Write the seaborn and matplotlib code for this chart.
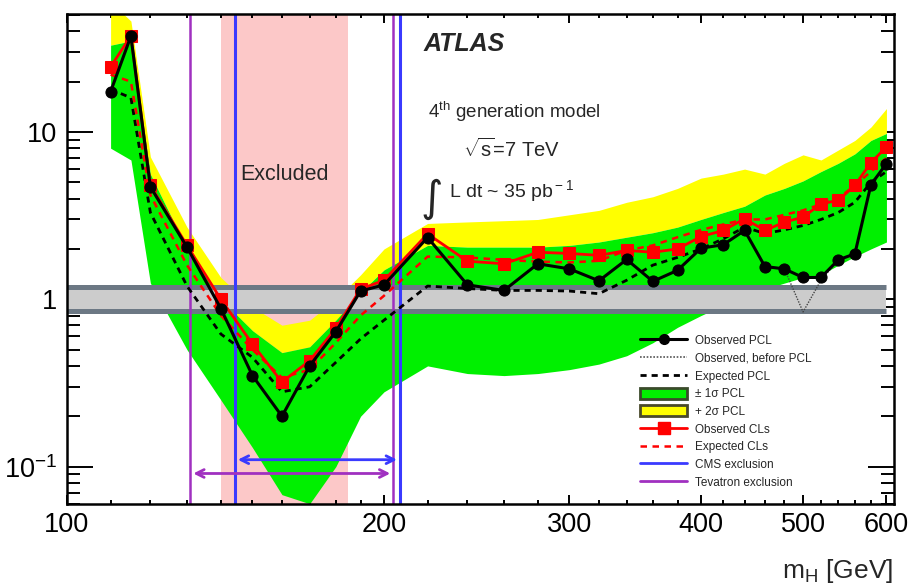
import matplotlib
matplotlib.use("Agg")
import matplotlib.pyplot as plt
import numpy as np
import pandas as pd
import seaborn as sns
from matplotlib.lines import Line2D
from matplotlib.patches import Patch
from matplotlib.ticker import FixedLocator, NullFormatter, FixedFormatter

# Higgs mass points (GeV)
mass = [110, 115, 120, 130, 140, 150, 160, 170, 180, 190, 200, 220, 240, 260, 280,
        300, 320, 340, 360, 380, 400, 420, 440, 460, 480, 500, 520, 540, 560, 580, 600]

# 95% CL limits on sigma / sigma(4th generation)
obs_pcl = [17.4, 37.4, 4.7, 2.05, 0.88, 0.35, 0.20, 0.40, 0.64, 1.12, 1.22, 2.34, 1.22, 1.13, 1.63,
           1.52, 1.29, 1.73, 1.28, 1.49, 2.02, 2.12, 2.58, 1.57, 1.52, 1.35, 1.35, 1.72, 1.87, 4.84, 6.47]
obs_before_pcl = [17.4, 37.4, 4.7, 2.05, 0.88, 0.35, 0.20, 0.40, 0.64, 1.12, 1.22, 2.34, 1.22, 1.13, 1.63,
                  1.52, 1.29, 1.73, 1.28, 1.49, 2.02, 2.12, 2.58, 1.57, 1.52, 0.84, 1.30, 1.72, 1.87, 4.84, 6.47]
exp_pcl = [18.0, 16.0, 3.3, 1.2, 0.62, 0.45, 0.28, 0.30, 0.42, 0.58, 0.75, 1.20, 1.16, 1.13, 1.13,
           1.12, 1.08, 1.30, 1.60, 1.78, 2.00, 2.30, 2.70, 2.47, 2.60, 2.76, 3.00, 3.30, 3.80, 5.00, 5.80]
band_m1 = [8.0, 6.8, 1.25, 0.50, 0.25, 0.13, 0.068, 0.060, 0.10, 0.20, 0.28, 0.40, 0.36, 0.35, 0.36,
           0.38, 0.41, 0.46, 0.55, 0.68, 0.80, 0.92, 1.05, 1.15, 1.25, 1.35, 1.40, 1.60, 1.80, 2.00, 2.20]
band_p1 = [33.0, 35.0, 5.6, 2.0, 1.0, 0.65, 0.48, 0.52, 0.75, 1.10, 1.50, 2.10, 2.05, 2.05, 2.05,
           2.10, 2.20, 2.35, 2.50, 2.70, 3.00, 3.30, 3.60, 4.20, 4.60, 5.10, 5.80, 6.50, 7.40, 8.90, 9.80]
band_p2 = [60.0, 46.0, 7.1, 2.7, 1.35, 0.90, 0.70, 0.75, 1.00, 1.40, 2.00, 2.84, 2.90, 2.95, 3.00,
           3.20, 3.40, 3.80, 4.10, 4.60, 5.30, 5.60, 6.00, 5.60, 6.50, 7.30, 6.80, 7.80, 8.90, 10.7, 13.8]
obs_cls = [24.5, 37.5, 4.8, 2.1, 1.0, 0.54, 0.32, 0.43, 0.67, 1.15, 1.30, 2.46, 1.69, 1.63, 1.91,
           1.88, 1.83, 1.96, 1.91, 2.00, 2.37, 2.58, 3.03, 2.58, 2.89, 3.10, 3.72, 3.90, 4.80, 6.56, 8.13]
exp_cls = [22.0, 20.0, 4.2, 1.6, 0.80, 0.50, 0.34, 0.38, 0.55, 0.80, 1.05, 1.80, 1.78, 1.72, 1.68,
           1.66, 1.70, 1.96, 2.10, 2.35, 2.60, 2.80, 3.00, 3.00, 3.20, 3.40, 3.70, 4.00, 4.80, 5.80, 7.00]

# Exclusion ranges (GeV)
excluded = (140, 185)
cms_excl = (144.4, 207.0)
tevatron_excl = (131.0, 204.0)
theory_band = (0.855, 1.19)

x_major = [100, 200, 300, 400, 500, 600]
x_minor = [110, 120, 130, 140, 150, 160, 170, 180, 190, 220, 240, 260, 280, 320, 340, 360,
           380, 420, 440, 460, 480, 520, 540, 560, 580]
y_major = [0.1, 1, 10]
y_major_labels = ["$10^{-1}$", "1", "10"]
y_minor = [0.06, 0.07, 0.08, 0.09, 0.2, 0.3, 0.4, 0.5, 0.6, 0.7, 0.8, 0.9,
           2, 3, 4, 5, 6, 7, 8, 9, 20, 30, 40, 50]

df = pd.DataFrame({"mass": mass, "obs_pcl": obs_pcl, "obs_before": obs_before_pcl,
                   "exp_pcl": exp_pcl, "obs_cls": obs_cls, "exp_cls": exp_cls})

sns.set_style("ticks")
plt.rcParams["font.family"] = ["Liberation Sans", "DejaVu Sans"]
plt.rcParams["mathtext.fontset"] = "custom"
plt.rcParams["mathtext.rm"] = "Liberation Sans"
plt.rcParams["mathtext.it"] = "Liberation Sans:italic"
plt.rcParams["mathtext.bf"] = "Liberation Sans:bold"
plt.rcParams["mathtext.sf"] = "Liberation Sans"

W, H = 913, 586
fig = plt.figure(figsize=(W / 100, H / 100), dpi=100)
ax = fig.add_axes([67 / W, 82 / H, 827 / W, 490 / H])
ax.set_xscale("log")
ax.set_yscale("log")

GREEN = "#00f000"
YELLOW = "#ffff00"
PINK = "#fcc8c8"
BLUE = "#3a3aff"
PURPLE = "#a030c0"
RED = "#ff0000"

# excluded region
ax.axvspan(*excluded, color=PINK, lw=0, zorder=0)

# expected bands
ax.fill_between(mass, band_p1, band_p2, color=YELLOW, lw=0, zorder=1)
ax.fill_between(mass, band_m1, band_p1, color=GREEN, lw=0, zorder=2)

# theory uncertainty band around 1
ax.fill_between([100, 600], theory_band[0], theory_band[1], color="#cccccc", lw=0, zorder=3)
for yv in theory_band:
    ax.plot([100, 600], [yv, yv], color="#6c7884", lw=3.6, zorder=3.2, solid_capstyle="butt")

# other experiments
for xv in cms_excl:
    ax.axvline(xv, color=BLUE, lw=2.2, zorder=4)
for xv in tevatron_excl:
    ax.axvline(xv, color=PURPLE, lw=1.8, zorder=4)
ax.annotate("", xy=(cms_excl[0], 0.11), xytext=(cms_excl[1], 0.11),
            arrowprops=dict(arrowstyle="<->", color=BLUE, lw=2, mutation_scale=14), zorder=4)
ax.annotate("", xy=(tevatron_excl[0], 0.091), xytext=(tevatron_excl[1], 0.091),
            arrowprops=dict(arrowstyle="<->", color=PURPLE, lw=2, mutation_scale=14), zorder=4)

# limit curves
sns.lineplot(data=df, x="mass", y="exp_pcl", ax=ax, color="black", lw=2.0,
             linestyle=(0, (2.2, 1.8)), zorder=5)
sns.lineplot(data=df, x="mass", y="exp_cls", ax=ax, color=RED, lw=1.8,
             linestyle=(0, (2.6, 2.2)), zorder=5)
sns.lineplot(data=df, x="mass", y="obs_before", ax=ax, color="#444444", lw=1.0,
             linestyle=(0, (1, 1)), zorder=5.5)
sns.lineplot(data=df, x="mass", y="obs_cls", ax=ax, color=RED, lw=2.0, marker="s",
             markersize=9, markeredgecolor=RED, markerfacecolor=RED, zorder=6)
sns.lineplot(data=df, x="mass", y="obs_pcl", ax=ax, color="black", lw=2.2, marker="o",
             markersize=8, markeredgecolor="black", markerfacecolor="black", zorder=7)

ax.set_xlim(100, 610)
ax.set_ylim(0.0598, 50.7)
ax.set_xlabel("")
ax.set_ylabel("")

ax.xaxis.set_major_locator(FixedLocator(x_major))
ax.xaxis.set_major_formatter(FixedFormatter([str(v) for v in x_major]))
ax.xaxis.set_minor_locator(FixedLocator(x_minor))
ax.xaxis.set_minor_formatter(NullFormatter())
ax.yaxis.set_major_locator(FixedLocator(y_major))
ax.yaxis.set_major_formatter(FixedFormatter(y_major_labels))
ax.yaxis.set_minor_locator(FixedLocator(y_minor))
ax.yaxis.set_minor_formatter(NullFormatter())

ax.tick_params(axis="both", which="both", direction="in", top=True, right=True,
               colors="black", width=1.4, labelsize=19.5)
ax.tick_params(axis="x", which="major", length=6.5, pad=6)
ax.tick_params(axis="x", which="minor", length=3.2)
ax.tick_params(axis="y", which="major", length=18.5, pad=7)
ax.tick_params(axis="y", which="minor", length=9.4)
for sp in ax.spines.values():
    sp.set_linewidth(1.8)
    sp.set_color("black")
    sp.set_zorder(10)

# annotations
def fx(px):
    return px / W

def fy(py):
    return 1 - py / H

fig.text(fx(424), fy(51), "ATLAS", fontsize=18, fontweight="bold", fontstyle="italic", va="baseline")
fig.text(fx(428), fy(118), r"4$^{\rm th}$ generation model", fontsize=13.5, va="baseline")
fig.text(fx(463), fy(157), r"$\sqrt{\rm s}$=7 TeV", fontsize=14.5, va="baseline")
fig.text(fx(420), fy(211), "\u222b", family="DejaVu Sans", fontsize=31, va="baseline")
fig.text(fx(449), fy(197), r"L dt ~ 35 pb$^{\rm -1}$", fontsize=14, va="baseline")
fig.text(fx(285), fy(175), "Excluded", fontsize=15.5, ha="center", va="center")
fig.text(fx(893), fy(578), r"m$_{\rm H}$ [GeV]", fontsize=19, ha="right", va="baseline")

handles = [
    Line2D([], [], color="black", lw=2.2, marker="o", markersize=7),
    Line2D([], [], color="#555555", lw=1.2, linestyle=(0, (1, 1))),
    Line2D([], [], color="black", lw=2.0, linestyle=(0, (2.2, 1.8))),
    Patch(facecolor=GREEN, edgecolor="#3a4a2a", lw=2),
    Patch(facecolor=YELLOW, edgecolor="#4a4a2a", lw=2),
    Line2D([], [], color=RED, lw=2.0, marker="s", markersize=8),
    Line2D([], [], color=RED, lw=1.8, linestyle=(0, (2.6, 2.2))),
    Line2D([], [], color=BLUE, lw=2.0),
    Line2D([], [], color=PURPLE, lw=2.0),
]
labels = ["Observed PCL", "Observed, before PCL", "Expected PCL", "\u00b1 1\u03c3 PCL",
          "+ 2\u03c3 PCL", "Observed CLs", "Expected CLs", "CMS exclusion", "Tevatron exclusion"]
leg = ax.legend(handles, labels, loc="upper left", bbox_to_anchor=(0.693, 0.3455),
                frameon=False, fontsize=8.5, borderpad=0, borderaxespad=0,
                handlelength=4.0, handleheight=1.05, handletextpad=0.65, labelspacing=0.44)
leg.set_zorder(11)

fig.savefig("out.png", dpi=100, facecolor="white")
